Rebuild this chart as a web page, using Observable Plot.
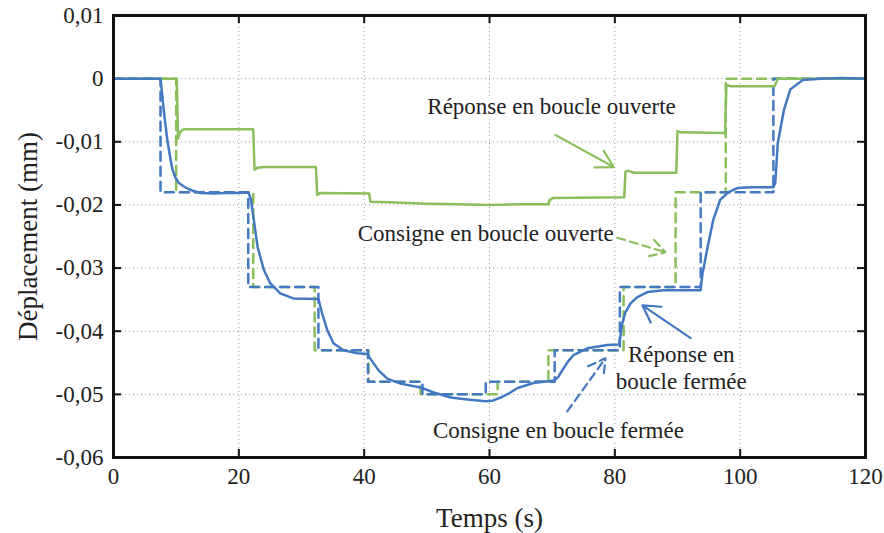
<!DOCTYPE html>
<html><head><meta charset="utf-8">
<script src="https://cdn.jsdelivr.net/npm/d3@7"></script>
<script src="https://cdn.jsdelivr.net/npm/@observablehq/plot@0.6"></script>
<style>body{margin:0;background:#fff} svg{display:block} svg text{font-family:"Liberation Serif","Times New Roman",Times,"DejaVu Serif",serif !important}</style>
</head><body><div id="chart"></div>
<script>
// Axis ticks
const xTicks = [0, 20, 40, 60, 80, 100, 120];
const yTicks = [0.01, 0, -0.01, -0.02, -0.03, -0.04, -0.05, -0.06];

// Consigne en boucle fermée (blue dashed, step)
const cbfT = [0, 7.5, 21.5, 32.7, 40.6, 49.3, 59.4, 70.4, 80.8, 93.7, 105.3, 120];
const cbfV = [0, -0.018, -0.033, -0.043, -0.048, -0.050, -0.048, -0.043, -0.033, -0.018, 0, 0];

// Consigne en boucle ouverte (green dashed, step)
const cboT = [0, 10.0, 22.3, 32.1, 40.7, 49.0, 61.3, 69.4, 81.4, 89.7, 97.7, 120];
const cboV = [0, -0.018, -0.033, -0.043, -0.048, -0.050, -0.048, -0.043, -0.033, -0.018, 0, 0];

// Réponse en boucle ouverte (green solid)
const rboT = [0, 10.1, 10.3, 10.6, 11.2, 22.3, 22.5, 23.0, 24.0, 32.3, 32.5, 33.0, 40.8, 41.0, 45, 50, 55, 60, 65, 69.4, 69.6, 70.2, 81.5, 81.7, 82.2, 83.0, 89.8, 90.0, 90.5, 97.6, 97.8, 98.5, 105.5, 106.0, 120];
const rboV = [0, 0, -0.0095, -0.0085, -0.0080, -0.0080, -0.0144, -0.0141, -0.0140, -0.0140, -0.0184, -0.0181, -0.0182, -0.0195, -0.0196, -0.0198, -0.0199, -0.0200, -0.0199, -0.0199, -0.0192, -0.0189, -0.0188, -0.0147, -0.0146, -0.0149, -0.0149, -0.0083, -0.0085, -0.0086, -0.0010, -0.0012, -0.0012, 0, 0];

// Réponse en boucle fermée (blue solid)
const rbfT = [0, 7.5, 7.8, 8.0, 8.6, 9.0, 9.4, 9.9, 10.4, 11.1, 11.8, 12.8, 13.9, 16, 18, 20, 21.5, 21.9, 22.4, 23.0, 24.0, 25.0, 26.6, 28.7, 32.7, 33.3, 34.1, 35.1, 36.7, 38.9, 40.6, 40.8, 42.3, 43.7, 45.8, 49.0, 49.5, 51.1, 53.8, 56.5, 59.4, 60.5, 61.8, 63.0, 64.5, 67.0, 70.4, 71.0, 71.8, 72.6, 73.4, 75.6, 78.8, 80.7, 81.2, 81.7, 82.5, 83.6, 85.2, 87.8, 93.7, 94.0, 94.8, 95.7, 96.8, 98.1, 99.6, 101.6, 105.3, 105.6, 106.0, 107.0, 108.0, 110.0, 112.8, 116, 120];
const rbfV = [0, 0, -0.0028, -0.0049, -0.0098, -0.0122, -0.0144, -0.0157, -0.0165, -0.0170, -0.0174, -0.0178, -0.0181, -0.0182, -0.0181, -0.0181, -0.0180, -0.0190, -0.0224, -0.0267, -0.0303, -0.0324, -0.0340, -0.0348, -0.0349, -0.0372, -0.0398, -0.0419, -0.0430, -0.0435, -0.0436, -0.0441, -0.0462, -0.0475, -0.0483, -0.0489, -0.0491, -0.0497, -0.0505, -0.0508, -0.0511, -0.0510, -0.0505, -0.0499, -0.0490, -0.0482, -0.0478, -0.0472, -0.0459, -0.0447, -0.0438, -0.0427, -0.0422, -0.0421, -0.0387, -0.0370, -0.0356, -0.0346, -0.0338, -0.0335, -0.0335, -0.0308, -0.0267, -0.0224, -0.0192, -0.0180, -0.0173, -0.0172, -0.0172, -0.0165, -0.0102, -0.0049, -0.0017, -0.0002, 0, 0.0001, 0];

// Annotations (data coordinates)
const annText = ["Réponse en boucle ouverte", "Consigne en boucle ouverte", "Réponse en\nboucle fermée", "Consigne en boucle fermée"];
const annX = [69.9, 59.4, 90.6, 71.0];
const annY = [-0.0043, -0.0244, -0.0456, -0.0556];
const annAnchor = ["middle", "middle", "start", "middle"];

const arrX1 = [70.5, 80.4, 92.1, 72.4];
const arrY1 = [-0.0089, -0.0252, -0.0411, -0.0527];
const arrX2 = [79.8, 88.1, 84.4, 78.5];
const arrY2 = [-0.0140, -0.0275, -0.0359, -0.0443];
const arrSeries = ["bo", "bo", "bf", "bf"];
const arrDashed = [false, true, false, true];

const BLUE = "#4479c2";
const GREEN = "#8abf5b";
const FONT = "'Liberation Serif', 'Times New Roman', Times, 'DejaVu Serif', serif";

const zip = (T, V) => T.map((t, i) => ({t, v: V[i]}));
const cbf = zip(cbfT, cbfV), cbo = zip(cboT, cboV), rbo = zip(rboT, rboV), rbf = zip(rbfT, rbfV);
const ann = annText.map((s, i) => ({s, x: annX[i], y: annY[i], a: annAnchor[i]}));
const arrows = arrX1.map((x1, i) => ({x1, y1: arrY1[i], x2: arrX2[i], y2: arrY2[i], c: arrSeries[i] === "bo" ? GREEN : BLUE, d: arrDashed[i]}));

const fmt = v => v === 0 ? "0" : (v < 0 ? "-" : "") + Math.abs(v).toFixed(2).replace(".", ",");

const W = 884, H = 533, mL = 113, mR = 19, mT = 15, mB = 76;
const fw = W - mL - mR, fh = H - mT - mB;
const TL = 8;

const chart = Plot.plot({
  width: W, height: H,
  marginLeft: mL, marginRight: mR, marginTop: mT, marginBottom: mB,
  style: {fontFamily: FONT, fontSize: "23px", color: "#222", background: "#fff"},
  x: {domain: [0, 120]},
  y: {domain: [-0.06, 0.01]},
  marks: [
    Plot.gridX(xTicks, {stroke: "#9a9a9a", strokeOpacity: 1, strokeDasharray: "1,3"}),
    Plot.gridY(yTicks, {stroke: "#9a9a9a", strokeOpacity: 1, strokeDasharray: "1,3"}),
    Plot.axisX(xTicks, {tickSize: 0, tickPadding: 10, tickFormat: d => String(d), label: null, fontFamily: FONT}),
    Plot.axisY(yTicks, {tickSize: 0, tickPadding: 10, tickFormat: fmt, label: null, fontFamily: FONT}),
    Plot.tickY(yTicks, {y: d => d, insetRight: fw - TL, stroke: "#111", strokeWidth: 2}),
    Plot.tickY(yTicks, {y: d => d, insetLeft: fw - TL, stroke: "#111", strokeWidth: 2}),
    Plot.tickX(xTicks, {x: d => d, insetTop: fh - TL, stroke: "#111", strokeWidth: 2}),
    Plot.tickX(xTicks, {x: d => d, insetBottom: fh - TL, stroke: "#111", strokeWidth: 2}),
    Plot.text(ann, {x: "x", y: "y", text: "s", textAnchor: d => d.a, lineAnchor: "middle", lineHeight: 1.17, fontSize: 23, fontFamily: FONT, fill: "#222", stroke: "white", strokeWidth: 8}),
    Plot.line(cbo, {x: "t", y: "v", curve: "step-after", stroke: GREEN, strokeWidth: 2.5, strokeDasharray: "9,6"}),
    Plot.line(cbf, {x: "t", y: "v", curve: "step-after", stroke: BLUE, strokeWidth: 2.5, strokeDasharray: "9,6"}),
    Plot.line(rbo, {x: "t", y: "v", stroke: GREEN, strokeWidth: 2.5}),
    Plot.line(rbf, {x: "t", y: "v", stroke: BLUE, strokeWidth: 2.5}),
    Plot.arrow(arrows.filter(d => !d.d), {x1: "x1", y1: "y1", x2: "x2", y2: "y2", stroke: d => d.c, strokeWidth: 2.2, headLength: 13}),
    Plot.arrow(arrows.filter(d => d.d), {x1: "x1", y1: "y1", x2: "x2", y2: "y2", stroke: d => d.c, strokeWidth: 2.2, headLength: 13, strokeDasharray: "8,5"}),
    Plot.frame({stroke: "#111", strokeWidth: 3}),
    Plot.text(["Déplacement (mm)"], {frameAnchor: "left", dx: -85, rotate: -90, textAnchor: "middle", lineAnchor: "middle", fontSize: 27, fontFamily: FONT, fill: "#222"}),
    Plot.text(["Temps (s)"], {frameAnchor: "bottom", dy: 61, textAnchor: "middle", lineAnchor: "middle", fontSize: 27, fontFamily: FONT, fill: "#222"})
  ]
});
document.getElementById("chart").append(chart);
</script>
</body></html>
